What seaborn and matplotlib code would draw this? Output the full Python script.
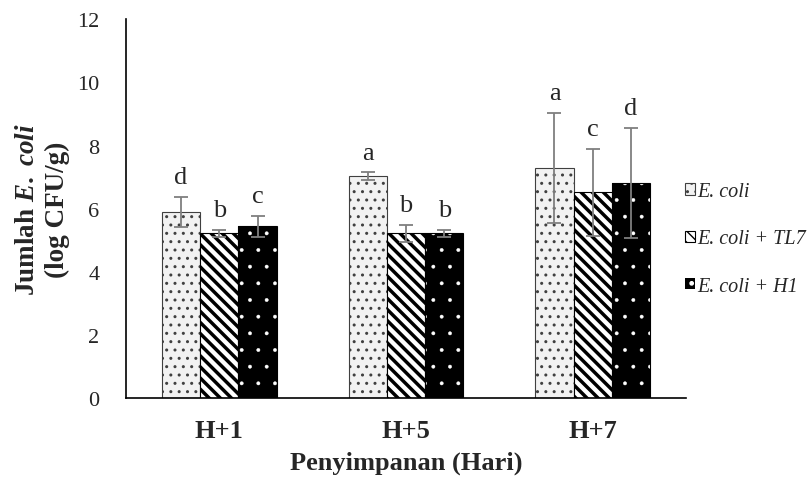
import pandas as pd
import matplotlib
matplotlib.use("Agg")
import matplotlib.pyplot as plt
import seaborn as sns
import numpy as np
from matplotlib.patches import Patch

# data
hari = ["H+1", "H+5", "H+7"]
perlakuan = ["E. coli", "E. coli + TL7", "E. coli + H1"]
ecoli = [5.90, 7.03, 7.28]
ecoli_tl7 = [5.22, 5.22, 6.52]
ecoli_h1 = [5.45, 5.22, 6.81]
sd_ecoli = [0.47, 0.12, 1.74]
sd_tl7 = [0.10, 0.28, 1.38]
sd_h1 = [0.33, 0.12, 1.74]
notasi_ecoli = ["d", "a", "a"]
notasi_tl7 = ["b", "b", "c"]
notasi_h1 = ["c", "b", "d"]

means = [ecoli, ecoli_tl7, ecoli_h1]
sds = [sd_ecoli, sd_tl7, sd_h1]
notasi = [notasi_ecoli, notasi_tl7, notasi_h1]

rows = []
for p, vals in zip(perlakuan, means):
    for h, v in zip(hari, vals):
        rows.append({"hari": h, "perlakuan": p, "jumlah": v})
df = pd.DataFrame(rows)

sns.set_style("white")
plt.rcParams["font.family"] = ["Liberation Serif", "DejaVu Serif"]
plt.rcParams["mathtext.fontset"] = "custom"
plt.rcParams["mathtext.rm"] = "Liberation Serif:bold"
plt.rcParams["mathtext.bf"] = "Liberation Serif:bold"
plt.rcParams["mathtext.it"] = "Liberation Serif:italic:bold"
plt.rcParams["mathtext.bfit"] = "Liberation Serif:italic:bold"

# fill, hatch colour, hatch, hatch width, edge width
styles = [
    ("#f2f2f2", "#404040", "..", 1.0, 0.8),
    ("white", "black", "\\\\\\", 2.5, 0.8),
    ("black", "white", ".", 0.3, 0.0),
]

fig = plt.figure(figsize=(8.12, 4.81), dpi=100)
ax = fig.add_axes([0.155, 0.17, 0.69, 0.788])

sns.barplot(data=df, x="hari", y="jumlah", hue="perlakuan", order=hari,
            hue_order=perlakuan, width=0.615, errorbar=None, legend=False,
            ax=ax)

handles = []
for cont, (fc, hc, hatch, hlw, elw), vals, err, lab, name in zip(
        ax.containers, styles, means, sds, notasi, perlakuan):
    xs = []
    for bar in cont:
        bar.set_facecolor(fc)
        bar.set_edgecolor(hc)
        bar.set_hatch(hatch)
        bar.set_linewidth(elw)
        if hasattr(bar, "set_hatch_linewidth"):
            bar.set_hatch_linewidth(hlw)
        xs.append(bar.get_x() + bar.get_width() / 2)
    if fc == "black":
        for bar in cont:
            ax.add_patch(plt.Rectangle((bar.get_x(), 0), bar.get_width(),
                                       bar.get_height(), fill=False,
                                       edgecolor="black", linewidth=0.8))
    ax.errorbar(xs, vals, yerr=err, fmt="none", ecolor="#7f7f7f",
                elinewidth=1.3, capsize=5, capthick=1.3, zorder=5)
    for x, v, e, t in zip(xs, vals, err, lab):
        ax.text(x, v + e + 0.28, t, ha="center", va="bottom", fontsize=19)
    hp = Patch(facecolor=fc, edgecolor=hc, hatch=hatch, linewidth=elw,
               label=name)
    if hasattr(hp, "set_hatch_linewidth"):
        hp.set_hatch_linewidth(min(hlw, 1.5))
    handles.append(hp)

ax.set_ylim(0, 12)
ax.set_yticks(range(0, 13, 2))
ax.set_xlim(-0.5, 2.5)
ax.tick_params(axis="y", length=0, pad=19, labelsize=16)
ax.tick_params(axis="x", length=0, pad=15, labelsize=19)
for t in ax.get_xticklabels():
    t.set_fontweight("bold")
# category boundary ticks like the original
ax.set_xticks([-0.5, 0.5, 1.5, 2.5], minor=True)
ax.tick_params(axis="x", which="minor", length=6, width=1.0, direction="out")

for s in ["top", "right"]:
    ax.spines[s].set_visible(False)
ax.spines["left"].set_color("black")
ax.spines["bottom"].set_color("black")
ax.spines["left"].set_linewidth(1.2)
ax.spines["bottom"].set_linewidth(1.2)

ax.set_xlabel("Penyimpanan (Hari)", fontsize=19, fontweight="bold", labelpad=6)
ax.set_ylabel("Jumlah $\\mathit{E.\\ coli}$\n(log CFU/g)", fontsize=19.5,
              fontweight="bold", labelpad=5, linespacing=1.25)

leg = ax.legend(handles=handles, loc="center left",
                bbox_to_anchor=(685 / 812, 1 - 240 / 481),
                bbox_transform=fig.transFigure, borderpad=0, borderaxespad=0,
                frameon=False, handlelength=0.5, handleheight=0.5,
                handletextpad=0.1, labelspacing=1.4,
                prop={"family": "Liberation Serif", "style": "italic", "size": 14.5})

fig.savefig("out.png", dpi=100)
